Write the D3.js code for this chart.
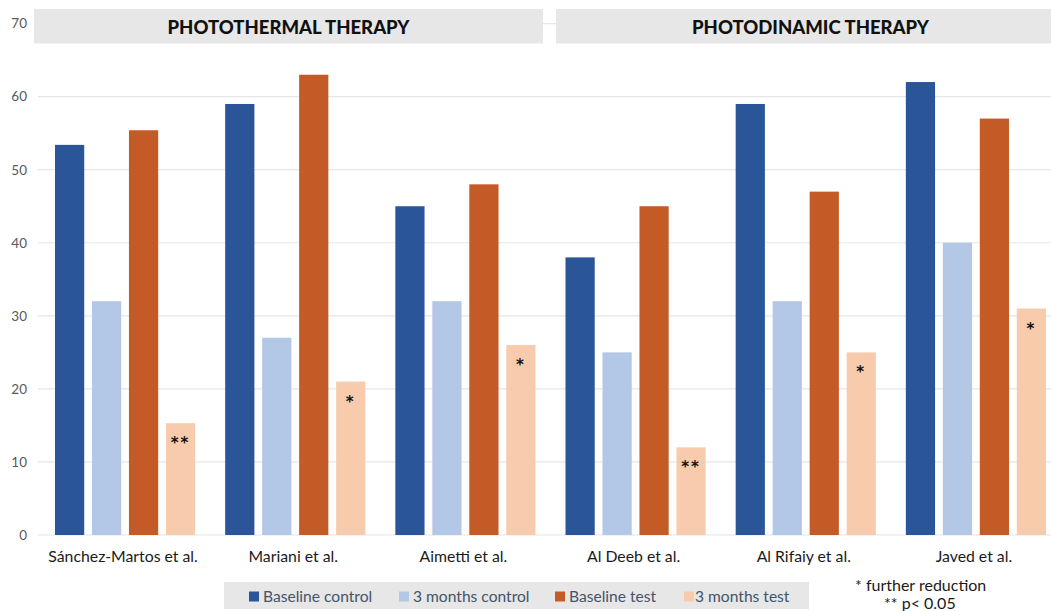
<!DOCTYPE html>
<html><head><meta charset="utf-8">
<script src="https://cdn.jsdelivr.net/npm/d3@7"></script>
<style>body{margin:0;background:#fff}svg{display:block}</style>
</head><body>
<svg id="c" width="1051" height="611"></svg>
<script>
const categories = ["Sánchez-Martos et al.","Mariani et al.","Aimetti et al.","Al Deeb et al.","Al Rifaiy et al.","Javed et al."];
const seriesNames = ["Baseline control","3 months control","Baseline test","3 months test"];
const baselineControl = [53.4, 59, 45, 38, 59, 62];
const control3m = [32, 27, 32, 25, 32, 40];
const baselineTest = [55.4, 63, 48, 45, 47, 57];
const test3m = [15.3, 21, 26, 12, 25, 31];
const significance = ["**","*","*","**","*","*"];
const yTicks = [0,10,20,30,40,50,60,70];
const panels = [{title:"PHOTOTHERMAL THERAPY", from:0, to:2},{title:"PHOTODINAMIC THERAPY", from:3, to:5}];
const colors = ["#2a5599","#b3c7e6","#c45a26","#f8cbad"];

const svg = d3.select("#c");
const font = "Lato, 'Open Sans', sans-serif";
const y = d3.scaleLinear().domain([0,70]).range([535,23.6]);
const x = d3.scaleBand().domain(categories).range([40,1061]).paddingInner(0).paddingOuter(0);
const xs = d3.scaleBand().domain(seriesNames).range([15, x.bandwidth()-15]).paddingInner(0.21).paddingOuter(0);

// gridlines
svg.append("g").selectAll("line").data(yTicks).join("line")
  .attr("x1",38).attr("x2",1051).attr("y1",d=>y(d)).attr("y2",d=>y(d))
  .attr("stroke","#e6e6e6").attr("stroke-width",1.2);

// y axis labels
const yAxis = d3.axisLeft(y).tickValues(yTicks).tickSize(0).tickPadding(0);
const ya = svg.append("g").attr("transform","translate(27,0)").call(yAxis);
ya.select(".domain").remove();
ya.selectAll("text").attr("font-family",font).attr("font-size",13.5).attr("fill","#595959");

// header boxes
panels.forEach((p,i)=>{
  const x0 = i===0 ? 34 : 556;
  const x1 = i===0 ? 543 : 1051;
  svg.append("rect").attr("x",x0).attr("y",9).attr("width",x1-x0).attr("height",34.5).attr("fill","#e7e7e7");
  svg.append("text").attr("x",(x0+x1)/2 + (i===0?0:7)).attr("y",33.5).attr("text-anchor","middle")
    .attr("font-family",font).attr("font-weight",900).attr("font-size",18.5).attr("fill","#111").text(p.title);
});

// bars
const allSeries = [baselineControl, control3m, baselineTest, test3m];
const groups = svg.append("g").selectAll("g").data(categories).join("g")
  .attr("transform",d=>`translate(${x(d)},0)`);
groups.each(function(cat,ci){
  const g = d3.select(this);
  seriesNames.forEach((s,si)=>{
    const v = allSeries[si][ci];
    g.append("rect").attr("x",xs(s)).attr("width",xs.bandwidth())
      .attr("y",y(v)).attr("height",y(0)-y(v)).attr("fill",colors[si]);
  });
  g.append("text").attr("x",xs(seriesNames[3])+xs.bandwidth()/2).attr("y",y(test3m[ci])+25)
    .attr("text-anchor","middle").attr("font-family","'DejaVu Sans', sans-serif").attr("font-weight","bold")
    .attr("font-size",15).attr("fill","#111").attr("letter-spacing",2).text(significance[ci]);
});

// category labels
svg.append("g").selectAll("text").data(categories).join("text")
  .attr("x",d=> x(d)+x.bandwidth()/2 - 2)
  .attr("y",562).attr("text-anchor","middle").attr("font-family",font).attr("font-size",15.8)
  .attr("fill","#1a1a1a").text(d=>d);

// legend
svg.append("rect").attr("x",224).attr("y",582).attr("width",585).attr("height",27).attr("fill","#e7e7e7");
const legX = d3.scaleOrdinal().domain(seriesNames).range([249,399,555,684]);
const lg = svg.append("g").selectAll("g").data(seriesNames).join("g")
  .attr("transform",d=>`translate(${legX(d)},0)`);
lg.append("rect").attr("x",0).attr("y",591.5).attr("width",10).attr("height",10).attr("fill",(d,i)=>colors[i]);
lg.append("text").attr("x",(d,i)=> i===3 ? 11 : 14).attr("y",601.5).attr("font-family",font).attr("font-size",15.6)
  .attr("fill","#44546a").text(d=>d);

// footnote
svg.append("text").attr("x",855).attr("y",591).attr("font-family",font).attr("font-size",16).attr("fill","#1a1a1a").text("* further reduction");
svg.append("text").attr("x",884).attr("y",609).attr("font-family",font).attr("font-size",16).attr("fill","#1a1a1a").text("** p< 0.05");
</script>
</body></html>
